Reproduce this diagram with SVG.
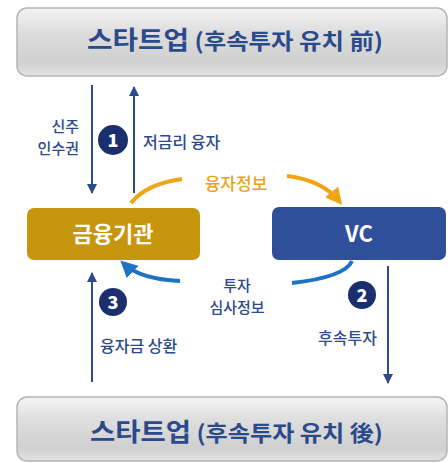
<svg xmlns="http://www.w3.org/2000/svg" width="448" height="463" viewBox="0 0 448 463">
<defs>
<linearGradient id="gray" x1="0" y1="0" x2="0" y2="1">
<stop offset="0" stop-color="#f4f4f4"/>
<stop offset="0.35" stop-color="#dedede"/>
<stop offset="0.8" stop-color="#d0d0d0"/>
<stop offset="1" stop-color="#e4e4e4"/>
</linearGradient>
<marker id="ah" viewBox="0 0 10 10" refX="9" refY="5" markerWidth="5" markerHeight="5" orient="auto" markerUnits="strokeWidth">
<path d="M0,0 L10,5 L0,10 z" fill="#2d4a8a"/>
</marker>
<marker id="ahO" viewBox="0 0 10 10" refX="7" refY="5" markerWidth="4.2" markerHeight="4.2" orient="auto" markerUnits="strokeWidth">
<path d="M0,0 L10,5 L0,10 z" fill="#efa516"/>
</marker>
<marker id="ahB" viewBox="0 0 10 10" refX="7" refY="5" markerWidth="4.2" markerHeight="4.2" orient="auto" markerUnits="strokeWidth">
<path d="M0,0 L10,5 L0,10 z" fill="#1d72c4"/>
</marker>
</defs>
<style>
.kr{font-family:"Noto Sans CJK KR","Noto Sans",sans-serif}
.title{font-size:22px;font-weight:700;fill:#2b4a8b}
.lbl{font-size:16px;font-weight:500;fill:#2b4a8b}
.lbl2{font-size:15px;font-weight:500;fill:#2b4a8b}
.num{font-size:18px;font-weight:900;fill:#fff}
.gbox{fill:url(#gray);stroke:#b5b5b5;stroke-width:1.5}
.vline{stroke:#2d4a8a;stroke-width:2;fill:none;marker-end:url(#ah)}
.circ{fill:#1b2f6e}
</style>
<g id="startup-before">
<rect class="gbox" x="17" y="8" width="430" height="68" rx="10"/>
<text class="kr title" x="87" y="49" textLength="296" lengthAdjust="spacingAndGlyphs"><tspan font-size="25">스타트업</tspan> (후속투자 유치 前)</text>
</g>
<g id="startup-after">
<rect class="gbox" x="17" y="397" width="430" height="64" rx="10"/>
<text class="kr title" x="90" y="441" textLength="293" lengthAdjust="spacingAndGlyphs"><tspan font-size="25">스타트업</tspan> (후속투자 유치 後)</text>
</g>
<g id="bank">
<rect x="27" y="208" width="173" height="52" rx="7" fill="#c7960d"/>
<text class="kr" x="113" y="242" text-anchor="middle" font-size="22" font-weight="700" fill="#fff">금융기관</text>
</g>
<g id="vc">
<rect x="272" y="207" width="174" height="53" rx="7" fill="#2f4f9b"/>
<text class="kr" x="359" y="242" text-anchor="middle" font-size="22" font-weight="700" fill="#fff">VC</text>
</g>
<g id="connectors">
<line class="vline" x1="92" y1="85" x2="92" y2="193"/>
<line class="vline" x1="134" y1="193" x2="134" y2="87"/>
<line class="vline" x1="388" y1="266" x2="388" y2="383"/>
<line class="vline" x1="92" y1="382" x2="92" y2="273"/>
<path d="M131,203 Q146,184 182,179" stroke="#efa516" stroke-width="4" fill="none"/>
<path d="M287,176 Q322,180 339,201" stroke="#efa516" stroke-width="4" fill="none" marker-end="url(#ahO)"/>
<path d="M352,261 Q345,277 292,283" stroke="#1d72c4" stroke-width="4" fill="none"/>
<path d="M180,281 Q140,279 124,264" stroke="#1d72c4" stroke-width="4" fill="none" marker-end="url(#ahB)"/>
</g>
<g id="labels">
<text class="kr lbl2" x="79" y="132" text-anchor="end">신주</text>
<text class="kr lbl2" x="79" y="154" text-anchor="end">인수권</text>
<text class="kr lbl" x="143" y="148">저금리 융자</text>
<text class="kr" x="236" y="190" text-anchor="middle" font-size="17" font-weight="500" fill="#eaa21c">융자정보</text>
<text class="kr lbl2" x="237" y="291" text-anchor="middle">투자</text>
<text class="kr lbl2" x="237" y="313" text-anchor="middle">심사정보</text>
<text class="kr lbl" x="377" y="344" text-anchor="end">후속투자</text>
<text class="kr lbl" x="100" y="352">융자금 상환</text>
</g>
<g id="step1">
<circle class="circ" cx="113" cy="140" r="15"/>
<text class="kr num" x="113" y="146.5" text-anchor="middle">1</text>
</g>
<g id="step2">
<circle class="circ" cx="362" cy="295" r="14"/>
<text class="kr num" x="362" y="301.5" text-anchor="middle">2</text>
</g>
<g id="step3">
<circle class="circ" cx="113" cy="302" r="14"/>
<text class="kr num" x="113" y="308.5" text-anchor="middle">3</text>
</g>
</svg>
